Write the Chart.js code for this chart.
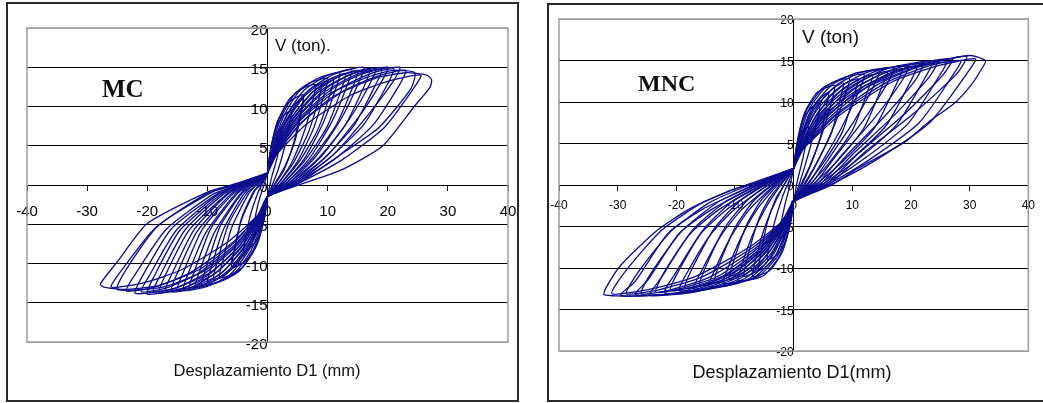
<!DOCTYPE html>
<html>
<head>
<meta charset="utf-8">
<script src="https://cdn.jsdelivr.net/npm/chart.js@4"></script>
<style>
  html, body { margin: 0; padding: 0; background: #fff; }
  body { width: 1043px; height: 403px; position: relative; overflow: hidden; }
  .box { position: absolute; border: 2px solid #2a2a2a; box-sizing: border-box; }
  canvas { position: absolute; top: 0; }
</style>
</head>
<body>
<div class="box" style="left:6px; top:2px; width:513px; height:400px"></div>
<div class="box" style="left:547px; top:3px; width:520px; height:399px"></div>
<canvas id="mc-chart" width="530" height="403" style="left:0"></canvas>
<canvas id="mnc-chart" width="503" height="403" style="left:540px"></canvas>
<script>
const X_TICKS = [-40, -30, -20, -10, 0, 10, 20, 30, 40];
const Y_TICKS = [-20, -15, -10, -5, 0, 5, 10, 15, 20];

const X_TITLE_MC = "Desplazamiento D1 (mm)";
const X_TITLE_MNC = "Desplazamiento D1(mm)";
const Y_TITLE_MC = "V (ton).";
const Y_TITLE_MNC = "V (ton)";

// displacement (mm), shear (ton), first cycle at each amplitude
const MC_LOOPS = [
  [[0,1.5],[0.4,4],[1.2,6.2],[2.5,7.5],[2.3,6.2],[1.6,3.5],[0.7,1],[0.4,0],[0,-1.5],[-0.4,-3.8],[-1.2,-5.6],[-2.5,-6.5],[-2.3,-5.2],[-1.6,-2.5],[-0.6,0],[0,1.5]],
  [[0,1.5],[0.5,4.5],[1.4,7.2],[2.6,8.8],[4,9.5],[3.7,8],[2.9,5],[1.8,2],[0.8,0],[0,-1.5],[-0.5,-4.2],[-1.5,-6.6],[-2.7,-7.9],[-4,-8.5],[-3.7,-7],[-2.9,-4],[-1.6,-1],[-0.8,0.3],[0,1.5]],
  [[0,1.5],[0.6,4.8],[1.6,8],[3.2,10.3],[4.6,11.1],[6,11.5],[5.6,9.6],[4.4,5.5],[2.8,2],[1.2,0],[0,-1.5],[-0.6,-4.5],[-1.7,-7.5],[-3.3,-9.4],[-4.7,-10.2],[-6,-10.5],[-5.6,-8.7],[-4.4,-4.6],[-2.3,-1],[-1.2,0.3],[0,1.5]],
  [[0,1.5],[0.6,4.6],[1.8,8.2],[3.6,10.9],[5.8,12.3],[8,12.8],[7.6,11],[6.2,7],[4,2.8],[1.6,0],[0,-1.5],[-0.7,-4.6],[-2,-8],[-4,-10.4],[-6,-11.4],[-8,-11.8],[-7.5,-9.9],[-6,-5.5],[-3.2,-1.2],[-1.6,0.3],[0,1.5]],
  [[0,1.5],[0.8,4.8],[2.2,8.5],[4.4,11.5],[7,13],[10,13.6],[9.5,11.8],[7.7,7.3],[5,3],[2,0],[0,-1.5],[-0.8,-4.6],[-2.3,-8.2],[-4.6,-10.9],[-7.2,-12.1],[-10,-12.6],[-9.4,-10.6],[-7.4,-5.8],[-4,-1.2],[-2,0.3],[0,1.5]],
  [[0,1.5],[0.9,4.7],[2.6,8.6],[5.2,11.9],[8.4,13.6],[12,14.3],[11.4,12.4],[9.2,7.8],[6,3.2],[2.4,0],[0,-1.5],[-0.9,-4.5],[-2.7,-8.3],[-5.4,-11.2],[-8.6,-12.5],[-12,-13],[-11.3,-11],[-8.8,-6],[-4.6,-1.2],[-2.4,0.3],[0,1.5]],
  [[0,1.5],[1,4.6],[3,8.6],[6,12],[9.8,13.9],[14,14.7],[13.3,12.8],[10.8,8.2],[7,3.4],[2.8,0],[0,-1.5],[-1,-4.4],[-3.1,-8.3],[-6.2,-11.4],[-10,-12.9],[-14,-13.4],[-13.2,-11.3],[-10.2,-6],[-5.3,-1.1],[-2.8,0.3],[0,1.5]],
  [[0,1.5],[1.1,4.5],[3.4,8.5],[6.8,12],[11,14.1],[16,15],[15.2,13.1],[12.3,8.5],[8,3.6],[3.2,0],[0,-1.5],[-1.1,-4.3],[-3.5,-8.2],[-7,-11.4],[-11.4,-13],[-16,-13.6],[-15.1,-11.4],[-11.7,-5.9],[-6,-1.1],[-3.2,0.2],[0,1.5]],
  [[0,1.5],[1.2,4.4],[3.8,8.4],[7.6,11.9],[12.4,14],[18,14.9],[17.1,13],[13.8,8.6],[9,3.7],[3.6,0],[0,-1.5],[-1.2,-4.2],[-3.9,-8],[-7.8,-11.3],[-12.8,-13.1],[-18,-13.7],[-17,-11.5],[-13.1,-5.8],[-6.7,-1.1],[-3.6,0.2],[0,1.5]],
  [[0,1.5],[1.3,4.3],[4.2,8.3],[8.4,11.8],[13.8,14.1],[20,15],[19,13.2],[15.3,8.8],[10,3.8],[4,0],[0,-1.5],[-1.3,-4.1],[-4.3,-7.9],[-8.6,-11.2],[-14.2,-13.2],[-20,-13.9],[-18.9,-11.7],[-14.6,-5.8],[-7.4,-1],[-4,0.2],[0,1.5]],
  [[0,1.5],[1.4,4.2],[4.6,8.2],[9.2,11.7],[15.2,14.2],[22,15],[20.9,13.2],[16.8,9],[11,3.9],[4.4,0],[0,-1.5],[-1.4,-4],[-4.7,-7.8],[-9.4,-11.1],[-15.6,-13.2],[-22,-13.8],[-20.8,-11.6],[-16,-5.6],[-8.1,-1],[-4.4,0.2],[0,1.5]],
  [[0,1.5],[1.5,4.1],[5,8],[10,11.5],[16.8,13.8],[21,14.6],[24.5,14.3],[23.8,12.2],[18.5,7.3],[12,3.8],[4.8,0],[0,-1.5],[-1.5,-3.9],[-5.2,-7.6],[-10.4,-10.9],[-17.4,-13],[-25,-13.3],[-23.7,-11],[-18.2,-5.2],[-9.2,-0.9],[-5,0.2],[0,1.5]],
  [[0,1.5],[1.6,4],[5.4,7.8],[11,11.3],[18,13.6],[23,14.3],[26.5,14],[27.3,13.4],[27,12.4],[24.4,10],[19.2,5],[12.5,2],[5.2,0],[0,-1.5],[-1.6,-3.8],[-5.6,-7.4],[-11.2,-10.7],[-18,-12.8],[-24,-13.3],[-27.2,-13],[-27.8,-12.6],[-25,-9.8],[-20,-4.9],[-10,-0.9],[-5.5,0.1],[0,1.5]],
];

// repeated cycles on the MC plot (softer reloading)
const MC_REPEAT_LOOPS = [
  [[0,1.5],[0.5,3],[1.5,6],[3.3,9],[4.8,10.5],[6,11],[5.7,9.6],[4.6,5.7],[2.9,2.4],[1.1,0],[0,-1.5],[-0.5,-3],[-1.5,-5.5],[-3.3,-8.3],[-4.8,-9.6],[-6,-10],[-5.6,-8.5],[-4.3,-4.2],[-2.3,-0.8],[-1.2,0],[0,1.5]],
  [[0,1.5],[0.5,3],[2.3,7.1],[5,10.6],[7.2,12.3],[9,12.9],[8.6,11.2],[6.8,6.7],[4.3,2.8],[1.6,0],[0,-1.5],[-0.5,-3],[-2.3,-6.6],[-5,-10],[-7.2,-11.5],[-9,-12],[-8.5,-10.2],[-6.5,-5],[-3.4,-1],[-1.8,0],[0,1.5]],
  [[0,1.5],[0.5,3],[2.8,7.5],[6,11.2],[8.8,12.9],[11,13.6],[10.5,11.8],[8.4,7.1],[5.3,3],[2,0],[0,-1.5],[-0.5,-3],[-2.8,-7],[-6,-10.5],[-8.8,-12.2],[-11,-12.7],[-10.3,-10.8],[-7.9,-5.3],[-4.2,-1],[-2.2,0],[0,1.5]],
  [[0,1.5],[0.5,3],[3.3,7.8],[7.2,11.6],[10.4,13.5],[13,14.2],[12.4,12.4],[9.9,7.4],[6.2,3.1],[2.3,0],[0,-1.5],[-0.5,-3],[-3.3,-7.2],[-7.2,-10.9],[-10.4,-12.6],[-13,-13.1],[-12.2,-11.1],[-9.4,-5.5],[-4.9,-1],[-2.6,0],[0,1.5]],
  [[0,1.5],[0.5,3],[3.8,8],[8.3,12],[12,13.9],[15,14.6],[14.3,12.7],[11.4,7.6],[7.2,3.2],[2.7,0],[0,-1.5],[-0.5,-3],[-3.8,-7.3],[-8.3,-11],[-12,-12.8],[-15,-13.3],[-14.1,-11.3],[-10.8,-5.6],[-5.7,-1.1],[-3,0],[0,1.5]],
  [[0,1.5],[0.5,3],[4.3,8.1],[9.4,12.1],[13.6,14],[17,14.7],[16.2,12.8],[12.9,7.6],[8.2,3.2],[3.1,0],[0,-1.5],[-0.5,-3],[-4.3,-7.4],[-9.4,-11.2],[-13.6,-13],[-17,-13.5],[-16,-11.5],[-12.2,-5.7],[-6.5,-1.1],[-3.4,0],[0,1.5]],
  [[0,1.5],[0.5,3],[4.8,8.1],[10.5,12.1],[15.2,14],[19,14.7],[18,12.8],[14.4,7.6],[9.1,3.2],[3.4,0],[0,-1.5],[-0.5,-3],[-4.8,-7.5],[-10.5,-11.3],[-15.2,-13.1],[-19,-13.6],[-17.9,-11.6],[-13.7,-5.7],[-7.2,-1.1],[-3.8,0],[0,1.5]],
  [[0,1.5],[0.5,3],[5.3,8.1],[11.6,12.1],[16.8,14.1],[21,14.8],[20,12.9],[16,7.7],[10.1,3.3],[3.8,0],[0,-1.5],[-0.5,-3],[-5.3,-7.5],[-11.6,-11.3],[-16.8,-13.1],[-21,-13.6],[-19.7,-11.6],[-15.1,-5.7],[-8,-1.1],[-4.2,0],[0,1.5]],
  [[0,1.5],[0.5,3],[5.8,8],[12.7,12],[18.4,13.9],[23,14.6],[21.9,12.7],[17.5,7.6],[11,3.2],[4.1,0],[0,-1.5],[-0.5,-3],[-5.9,-7.4],[-12.9,-11.2],[-18.8,-13],[-23.5,-13.5],[-22.1,-11.5],[-16.9,-5.7],[-8.9,-1.1],[-4.7,0],[0,1.5]],
  [[0,1.5],[0.5,3],[6.4,7.7],[14,11.5],[20.4,13.3],[25.5,14],[24.2,12.2],[19.4,7.3],[12.2,3.1],[4.6,0],[0,-1.5],[-0.5,-3],[-6.5,-7.2],[-14.3,-10.8],[-20.8,-12.5],[-26,-13],[-24.4,-11],[-18.7,-5.5],[-9.9,-1],[-5.2,0],[0,1.5]],
];

// displacement (mm), shear (ton), first cycle at each amplitude
const MNC_LOOPS = [
  [[0,2],[0.4,4.3],[1.2,6.2],[2.5,7],[2.3,5.8],[1.6,3.3],[0.8,1],[0.5,0],[0,-2],[-0.4,-4],[-1.2,-5.7],[-2.5,-6.5],[-2.3,-5.2],[-1.5,-2.4],[-0.6,0],[0,2]],
  [[0,2],[0.5,4.8],[1.5,7.8],[3,9.3],[4.5,10],[4.2,8.3],[3,5],[1.8,2],[0.9,0],[0,-2],[-0.5,-4.5],[-1.6,-7.2],[-3,-8.5],[-4.5,-9],[-4.2,-7.4],[-3.3,-4.6],[-1.8,-1.2],[-0.9,0.3],[0,2]],
  [[0,2],[0.6,5],[1.8,8.6],[3.8,11],[5.4,11.7],[7,12],[6.6,10.4],[5,6.5],[3,2.6],[1.4,0],[0,-2],[-0.6,-4.7],[-1.9,-8],[-3.9,-10.2],[-5.5,-10.8],[-7,-11],[-6.6,-9.3],[-5.2,-5.7],[-3.5,-2.6],[-1.8,-0.2],[0,2]],
  [[0,2],[0.7,5.1],[2.2,9],[4.8,11.6],[7.2,12.5],[9.5,12.8],[8.9,11.1],[7,7.3],[4.2,3],[1.9,0],[0,-2],[-0.7,-4.8],[-2.3,-8.4],[-4.9,-10.8],[-7.3,-11.4],[-9.5,-11.5],[-8.9,-9.8],[-7,-6],[-4.8,-2.8],[-2.4,-0.2],[0,2]],
  [[0,2],[0.8,5.1],[2.6,9.1],[5.6,11.9],[8.8,13],[12,13.3],[11.3,11.6],[8.6,7.5],[5.2,3.2],[2.4,0],[0,-2],[-0.8,-4.7],[-2.7,-8.5],[-5.8,-10.9],[-8.9,-11.6],[-12,-11.8],[-11.2,-10],[-8.8,-6.1],[-6.2,-2.9],[-3,-0.2],[0,2]],
  [[0,2],[0.9,5],[3,9.1],[6.4,12],[10.2,13.4],[14.5,13.8],[13.7,12],[10.3,7.7],[6.2,3.4],[2.9,0],[0,-2],[-0.9,-4.6],[-3.1,-8.5],[-6.6,-11.1],[-10.4,-12],[-14.5,-12.2],[-13.5,-10.3],[-10.6,-6.1],[-7.6,-3],[-3.6,-0.2],[0,2]],
  [[0,2],[1,4.9],[3.4,9],[7.2,12],[11.6,13.6],[17,14.1],[16,12.3],[12,7.9],[7.2,3.5],[3.4,0],[0,-2],[-1,-4.5],[-3.5,-8.4],[-7.4,-11.2],[-11.8,-12.2],[-17,-12.5],[-15.8,-10.5],[-12.4,-6.1],[-8.9,-3],[-4.2,-0.2],[0,2]],
  [[0,2],[1.1,4.8],[3.8,8.9],[8,11.9],[13,13.7],[19.5,14.3],[18.4,12.5],[13.7,8],[8.2,3.6],[3.9,0],[0,-2],[-1.1,-4.4],[-3.9,-8.3],[-8.2,-11.2],[-13.3,-12.4],[-19.5,-12.7],[-18.2,-10.6],[-14.2,-6],[-10.2,-3],[-4.8,-0.2],[0,2]],
  [[0,2],[1.2,4.7],[4.2,8.8],[8.8,11.8],[14.4,13.8],[22,14.6],[20.8,12.7],[15.4,8.2],[9.2,3.7],[4.4,0],[0,-2],[-1.2,-4.3],[-4.3,-8.2],[-9,-11.2],[-14.8,-12.6],[-22,-13],[-20.4,-10.9],[-16,-6],[-11.5,-3],[-5.4,-0.2],[0,2]],
  [[0,2],[1.3,4.6],[4.6,8.7],[9.6,11.8],[15.8,14],[24.5,15],[23.1,13],[17,8.3],[10.2,3.8],[4.9,0],[0,-2],[-1.3,-4.2],[-4.7,-8.1],[-9.8,-11.2],[-16.3,-12.8],[-24.5,-13.3],[-22.6,-11.2],[-17.8,-6],[-12.8,-3],[-6,-0.2],[0,2]],
  [[0,2],[1.4,4.5],[5,8.6],[10.4,11.7],[17.2,14],[27,15.2],[25.4,13.2],[18.8,8.5],[11.2,3.9],[5.4,0],[0,-2],[-1.4,-4.1],[-5.1,-8],[-10.6,-11.2],[-17.8,-12.9],[-27,-13.2],[-24.8,-11.4],[-19.6,-5.9],[-14.1,-3],[-6.6,-0.2],[0,2]],
  [[0,2],[1.5,4.4],[5.4,8.5],[11.2,11.6],[18.6,14],[25,15],[29.5,15.5],[27.8,13.4],[20.6,8.7],[12.2,4],[5.9,0],[0,-2],[-1.5,-4],[-5.5,-7.9],[-11.4,-11.2],[-19.2,-13],[-29.5,-13.3],[-27,-11.6],[-21.4,-5.8],[-15.5,-2.9],[-7.2,-0.2],[0,2]],
  [[0,2],[1.6,4.3],[5.8,8.4],[12,11.6],[20,14],[26,15.1],[30.2,15.6],[32.7,15],[32.4,14.4],[30.2,12],[27.3,9.8],[23,7.6],[19,5.2],[10.7,1.9],[6.5,0],[0,-2],[-1.6,-3.9],[-5.9,-7.8],[-12.3,-11.2],[-20,-13],[-28,-13.4],[-32.3,-13.2],[-32,-12.4],[-29.5,-9.7],[-23.5,-5.6],[-17.8,-2.9],[-10.2,-0.5],[-5,0.5],[0,2]],
];

// repeated cycles on the MNC plot
const MNC_REPEAT_LOOPS = [
  [[0,2],[0.5,3.5],[1.5,6.2],[3.3,9.2],[4.8,10.6],[6,11.2],[5.7,9.9],[4.5,5.6],[2.7,2.2],[1.2,0],[0,-2],[-0.5,-3.5],[-1.5,-6],[-3.3,-8.8],[-4.8,-9.9],[-6,-10.3],[-5.6,-8.2],[-4.4,-4.3],[-3,-1.6],[-1.8,-0.2],[0,2]],
  [[0,2],[0.5,3.5],[2.1,6.8],[4.7,10.1],[6.8,11.7],[8.5,12.3],[8.1,10.8],[6.4,6.2],[3.8,2.5],[1.7,0],[0,-2],[-0.5,-3.5],[-2.1,-6.4],[-4.7,-9.4],[-6.8,-10.6],[-8.5,-11],[-7.9,-8.8],[-6.2,-4.6],[-4.3,-1.8],[-2.6,-0.2],[0,2]],
  [[0,2],[0.5,3.5],[2.8,7],[6,10.5],[8.8,12.2],[11,12.8],[10.5,11.3],[8.3,6.4],[5,2.6],[2.2,0],[0,-2],[-0.5,-3.5],[-2.8,-6.6],[-6,-9.7],[-8.8,-10.9],[-11,-11.4],[-10.2,-9.1],[-8,-4.8],[-5.5,-1.8],[-3.3,-0.2],[0,2]],
  [[0,2],[0.5,3.5],[3.4,7.3],[7.4,10.9],[10.8,12.6],[13.5,13.3],[12.8,11.7],[10.1,6.7],[6.1,2.7],[2.7,0],[0,-2],[-0.5,-3.5],[-3.4,-6.8],[-7.4,-10],[-10.8,-11.3],[-13.5,-11.8],[-12.6,-9.4],[-9.9,-5],[-6.8,-1.9],[-4,-0.2],[0,2]],
  [[0,2],[0.5,3.5],[4,7.5],[8.8,11.2],[12.8,13],[16,13.7],[15.2,12.1],[12,6.9],[7.2,2.7],[3.2,0],[0,-2],[-0.5,-3.5],[-4,-7],[-8.8,-10.3],[-12.8,-11.6],[-16,-12.1],[-14.9,-9.7],[-11.7,-5.1],[-8,-1.9],[-4.8,-0.2],[0,2]],
  [[0,2],[0.5,3.5],[4.6,7.7],[10.2,11.5],[14.8,13.3],[18.5,14],[17.6,12.3],[13.9,7],[8.3,2.8],[3.7,0],[0,-2],[-0.5,-3.5],[-4.6,-7.2],[-10.2,-10.5],[-14.8,-11.9],[-18.5,-12.4],[-17.2,-9.9],[-13.5,-5.2],[-9.3,-2],[-5.6,-0.2],[0,2]],
  [[0,2],[0.5,3.5],[5.3,7.9],[11.6,11.7],[16.8,13.6],[21,14.3],[20,12.6],[15.8,7.2],[9.5,2.9],[4.2,0],[0,-2],[-0.5,-3.5],[-5.3,-7.4],[-11.6,-10.8],[-16.8,-12.2],[-21,-12.7],[-19.5,-10.2],[-15.3,-5.3],[-10.5,-2],[-6.3,-0.3],[0,2]],
  [[0,2],[0.5,3.5],[5.9,8],[12.9,12],[18.8,13.9],[23.5,14.6],[22.3,12.8],[17.6,7.3],[10.6,2.9],[4.7,0],[0,-2],[-0.5,-3.5],[-5.9,-7.5],[-12.9,-11],[-18.8,-12.4],[-23.5,-12.9],[-21.9,-10.3],[-17.2,-5.4],[-11.8,-2.1],[-7,-0.3],[0,2]],
  [[0,2],[0.5,3.5],[6.5,8.1],[14.3,12.1],[20.8,14.1],[26,14.8],[24.7,13],[19.5,7.4],[11.7,3],[5.2,0],[0,-2],[-0.5,-3.5],[-6.5,-7.6],[-14.3,-11.1],[-20.8,-12.6],[-26,-13.1],[-24.2,-10.5],[-19,-5.5],[-13,-2.1],[-7.8,-0.3],[0,2]],
  [[0,2],[0.5,3.5],[7.1,8.3],[15.7,12.3],[22.8,14.3],[28.5,15],[27.1,13.2],[21.4,7.5],[12.8,3],[5.7,0],[0,-2],[-0.5,-3.5],[-7.1,-7.6],[-15.7,-11.1],[-22.8,-12.6],[-28.5,-13.1],[-26.5,-10.5],[-20.8,-5.5],[-14.3,-2.1],[-8.6,-0.3],[0,2]],
  [[0,2],[0.5,3.5],[7.8,8.4],[17,12.5],[24.8,14.4],[31,15.2],[29.5,13.4],[23.3,7.6],[14,3],[6.2,0],[0,-2],[-0.5,-3.5],[-7.8,-7.6],[-17,-11.1],[-24.8,-12.6],[-31,-13.1],[-28.8,-10.5],[-22.6,-5.5],[-15.5,-2.1],[-9.3,-0.3],[0,2]],
];

const LINE_COLOR = "#0c0c8e";
const SANS = "'Liberation Sans', Arial, sans-serif";
const SERIF = "'Liberation Serif', 'Times New Roman', serif";

// gray frame around the plot area
const framePlugin = {
  id: "frame",
  beforeDatasetsDraw(chart) {
    const { ctx, chartArea: a } = chart;
    ctx.save();
    ctx.strokeStyle = "#9c9c9c";
    ctx.lineWidth = 1.5;
    ctx.strokeRect(a.left, a.top, a.right - a.left, a.bottom - a.top);
    ctx.restore();
  },
};

// free text: axis titles and the specimen name
const textPlugin = {
  id: "texts",
  afterDraw(chart, args, opts) {
    const ctx = chart.ctx;
    ctx.save();
    ctx.fillStyle = "#111";
    ctx.textBaseline = "alphabetic";
    (opts.items || []).forEach((item) => {
      ctx.font = item.font;
      ctx.textAlign = item.align || "left";
      ctx.fillText(item.text, item.x, item.y);
    });
    ctx.restore();
  },
};

function makeChart(id, loops, cfg) {
  return new Chart(document.getElementById(id), {
    type: "scatter",
    data: {
      datasets: loops.map((loop) => ({
        data: loop.map(([x, y]) => ({ x, y })),
        showLine: true,
        borderColor: LINE_COLOR,
        borderWidth: 1.3,
        pointRadius: 0,
        tension: 0.2,
        fill: false,
      })),
    },
    options: {
      responsive: false,
      animation: false,
      events: [],
      layout: { padding: cfg.padding },
      plugins: {
        legend: { display: false },
        tooltip: { enabled: false },
        texts: { items: cfg.texts },
      },
      scales: {
        x: {
          type: "linear",
          min: -40,
          max: 40,
          position: { y: 0 },
          afterBuildTicks: (scale) => {
            scale.ticks = X_TICKS.map((v) => ({ value: v }));
          },
          grid: { drawOnChartArea: false, color: "#000", tickLength: 5 },
          border: { color: "#000", width: 1 },
          ticks: {
            color: "#000",
            font: { family: SANS, size: cfg.tickSize },
            padding: cfg.xPad,
            maxRotation: 0,
            autoSkip: false,
          },
        },
        y: {
          type: "linear",
          min: -20,
          max: 20,
          position: { x: 0 },
          afterBuildTicks: (scale) => {
            scale.ticks = Y_TICKS.map((v) => ({ value: v }));
          },
          grid: {
            color: (c) => (c.tick && Math.abs(c.tick.value) === 20 ? "#9c9c9c" : "#000"),
            tickColor: "#000",
            tickLength: 4,
            lineWidth: 1,
          },
          border: { color: "#000", width: 1 },
          ticks: {
            color: "#000",
            font: { family: SANS, size: cfg.tickSize },
            padding: cfg.yPad,
            labelOffset: cfg.yLabelOffset,
            autoSkip: false,
          },
        },
      },
    },
    plugins: [framePlugin, textPlugin],
  });
}

makeChart("mc-chart", MC_LOOPS.concat(MC_REPEAT_LOOPS), {
  padding: { left: 27, right: 22, top: 28, bottom: 61 },
  tickSize: 15,
  xPad: 13,
  yPad: 6,
  yLabelOffset: 3,
  texts: [
    { text: Y_TITLE_MC, x: 275, y: 51, font: "17px " + SANS },
    { text: "MC", x: 102, y: 97, font: "bold 25px " + SERIF },
    { text: X_TITLE_MC, x: 267, y: 376, font: "16.5px " + SANS, align: "center" },
  ],
});

makeChart("mnc-chart", MNC_LOOPS.concat(MNC_REPEAT_LOOPS), {
  padding: { left: 19, right: 5, top: 19, bottom: 52 },
  tickSize: 12,
  xPad: 8,
  yPad: 7,
  yLabelOffset: 2,
  texts: [
    { text: Y_TITLE_MNC, x: 262, y: 43, font: "19px " + SANS },
    { text: "MNC", x: 98, y: 91, font: "bold 24px " + SERIF },
    { text: X_TITLE_MNC, x: 252, y: 378, font: "18px " + SANS, align: "center" },
  ],
});
</script>
</body>
</html>
